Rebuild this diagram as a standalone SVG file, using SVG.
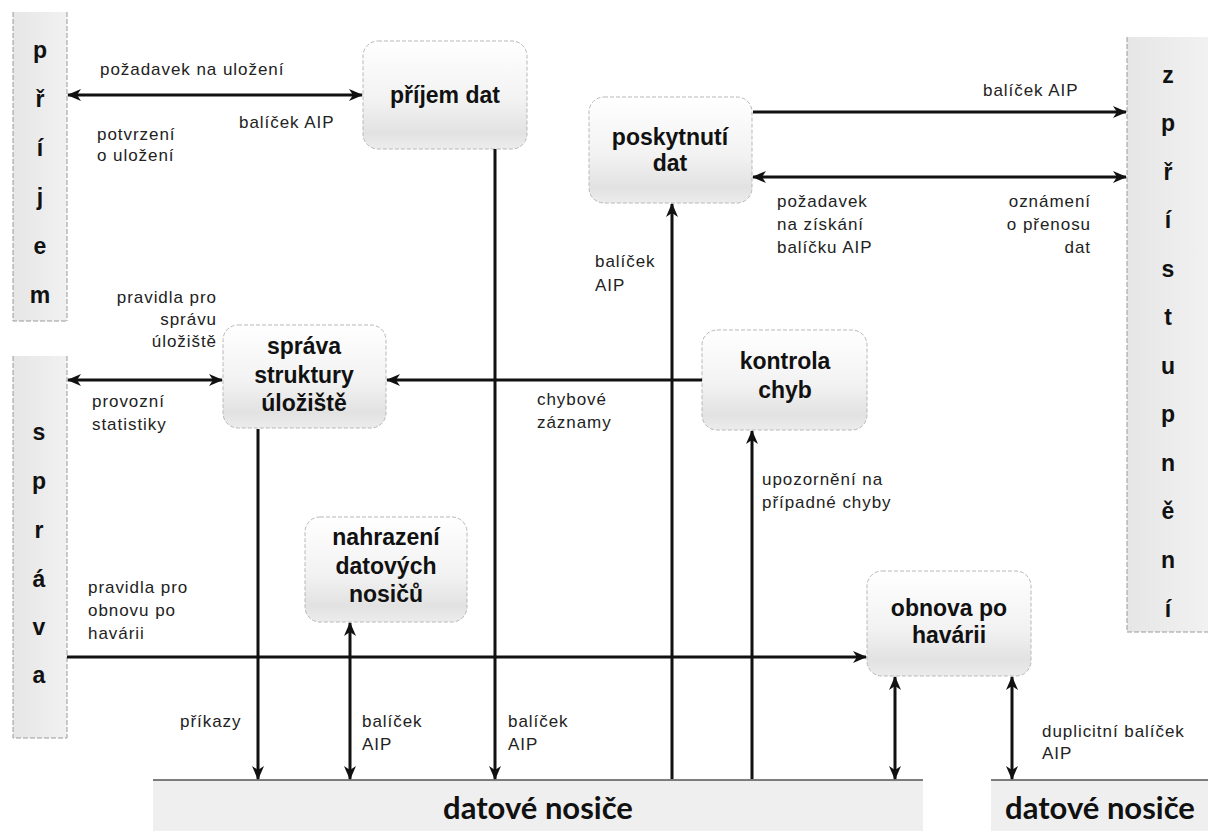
<svg xmlns="http://www.w3.org/2000/svg" width="1208" height="831" viewBox="0 0 1208 831">
<defs>
<linearGradient id="boxg" x1="0" y1="0" x2="0" y2="1">
<stop offset="0" stop-color="#ffffff"/>
<stop offset="0.55" stop-color="#f2f2f2"/>
<stop offset="0.85" stop-color="#e2e2e2"/>
<stop offset="1" stop-color="#ececec"/>
</linearGradient>
<linearGradient id="bandg" x1="0" y1="0" x2="1" y2="0">
<stop offset="0" stop-color="#e6e6e6"/>
<stop offset="1" stop-color="#f1f1f1"/>
</linearGradient>
<marker id="ah" viewBox="0 0 14 12" refX="13" refY="6" markerWidth="14" markerHeight="12" markerUnits="userSpaceOnUse" orient="auto-start-reverse">
<path d="M0,0 L14,6 L0,12 L4,6 z" fill="#111"/>
</marker>
</defs>
<style>
.box{fill:url(#boxg);stroke:#b8b8b8;stroke-width:1;stroke-dasharray:4 2}
.band{fill:url(#bandg)}
.edge{stroke:#9a9a9a;stroke-width:1;stroke-dasharray:5 2;fill:none}
.t{font-family:"Liberation Sans",Arial,sans-serif;font-weight:bold;font-size:23px;fill:#111;text-anchor:middle}
.bl{font-family:"Liberation Sans",Arial,sans-serif;font-weight:bold;font-size:23px;fill:#111;text-anchor:middle}
.lb{font-family:"Liberation Sans",Arial,sans-serif;font-size:17px;letter-spacing:0.95px;fill:#222}
.r{text-anchor:end}
.dn{font-family:Lato,"Open Sans",sans-serif;font-weight:bold;font-size:31px;fill:#111;text-anchor:middle}
.c{stroke:#111;stroke-width:3;fill:none}
.s{marker-end:url(#ah)}
.d{marker-start:url(#ah);marker-end:url(#ah)}
</style>

<g id="band-prijem">
<rect class="band" x="13" y="12" width="54" height="309"/>
<path class="edge" d="M13,12 V321 H67 M67,12 V321"/>
<text class="bl" x="40" y="58">p</text>
<text class="bl" x="40" y="107">ř</text>
<text class="bl" x="40" y="156">í</text>
<text class="bl" x="40" y="205">j</text>
<text class="bl" x="40" y="254">e</text>
<text class="bl" x="40" y="303">m</text>
</g>

<g id="band-sprava">
<rect class="band" x="13" y="356" width="54" height="382"/>
<path class="edge" d="M13,356 V738 H67 M67,356 V738"/>
<text class="bl" x="39" y="440">s</text>
<text class="bl" x="39" y="489">p</text>
<text class="bl" x="39" y="538">r</text>
<text class="bl" x="39" y="587">á</text>
<text class="bl" x="39" y="635">v</text>
<text class="bl" x="39" y="683">a</text>
</g>

<g id="band-zpristupneni">
<rect class="band" x="1127" y="37" width="81" height="595"/>
<path class="edge" d="M1127,37 V632 H1208"/>
<text class="bl" x="1168" y="83">z</text>
<text class="bl" x="1168" y="131">p</text>
<text class="bl" x="1168" y="180">ř</text>
<text class="bl" x="1168" y="228">í</text>
<text class="bl" x="1168" y="277">s</text>
<text class="bl" x="1168" y="325">t</text>
<text class="bl" x="1168" y="374">u</text>
<text class="bl" x="1168" y="422">p</text>
<text class="bl" x="1168" y="471">n</text>
<text class="bl" x="1168" y="519">ě</text>
<text class="bl" x="1168" y="568">n</text>
<text class="bl" x="1168" y="617">í</text>
</g>

<g id="band-nosice-1">
<rect x="153" y="780" width="770" height="51" fill="#efefef"/>
<line x1="153" y1="780" x2="923" y2="780" stroke="#555" stroke-width="1.5"/>
<text class="dn" x="538" y="819">datové nosiče</text>
</g>

<g id="band-nosice-2">
<rect x="991" y="780" width="217" height="51" fill="#efefef"/>
<line x1="991" y1="780" x2="1208" y2="780" stroke="#555" stroke-width="1.5"/>
<text class="dn" x="1100" y="819">datové nosiče</text>
</g>

<g id="node-prijem-dat">
<rect class="box" x="363" y="41" width="164" height="108" rx="15"/>
<text class="t" x="445" y="103">příjem dat</text>
</g>

<g id="node-poskytnuti-dat">
<rect class="box" x="589" y="97" width="163" height="106" rx="15"/>
<text class="t" x="670" y="145">poskytnutí</text>
<text class="t" x="670" y="171">dat</text>
</g>

<g id="node-sprava-struktury">
<rect class="box" x="223" y="325" width="163" height="103" rx="15"/>
<text class="t" x="304" y="354">správa</text>
<text class="t" x="304" y="383">struktury</text>
<text class="t" x="304" y="411">úložiště</text>
</g>

<g id="node-kontrola-chyb">
<rect class="box" x="702" y="330" width="165" height="100" rx="15"/>
<text class="t" x="785" y="369">kontrola</text>
<text class="t" x="785" y="398">chyb</text>
</g>

<g id="node-nahrazeni">
<rect class="box" x="305" y="517" width="162" height="105" rx="15"/>
<text class="t" x="386" y="545">nahrazení</text>
<text class="t" x="386" y="574">datových</text>
<text class="t" x="386" y="602">nosičů</text>
</g>

<g id="node-obnova">
<rect class="box" x="867" y="571" width="164" height="105" rx="15"/>
<text class="t" x="949" y="616">obnova po</text>
<text class="t" x="949" y="643">havárii</text>
</g>

<g id="connectors">
<path class="c d" d="M68,95 H362"/>
<path class="c s" d="M495,149 V779"/>
<path class="c s" d="M672,779 V204"/>
<path class="c s" d="M752,779 V431"/>
<path class="c s" d="M753,112 H1126"/>
<path class="c d" d="M753,177 H1126"/>
<path class="c d" d="M68,380 H222"/>
<path class="c s" d="M702,380 H387"/>
<path class="c s" d="M258,429 V779"/>
<path class="c d" d="M350,779 V623"/>
<path class="c s" d="M67,657 H866"/>
<path class="c d" d="M895,779 V677"/>
<path class="c d" d="M1012,779 V677"/>
</g>

<g id="labels">
<text class="lb" x="100" y="75">požadavek na uložení</text>
<text class="lb" x="239" y="128">balíček AIP</text>
<text class="lb" x="97" y="140">potvrzení</text>
<text class="lb" x="97" y="161">o uložení</text>
<text class="lb r" x="217" y="303">pravidla pro</text>
<text class="lb r" x="217" y="325">správu</text>
<text class="lb r" x="217" y="347">úložiště</text>
<text class="lb" x="92" y="407">provozní</text>
<text class="lb" x="92" y="430">statistiky</text>
<text class="lb" x="537" y="405">chybové</text>
<text class="lb" x="537" y="428">záznamy</text>
<text class="lb" x="595" y="267">balíček</text>
<text class="lb" x="595" y="291">AIP</text>
<text class="lb" x="983" y="96">balíček AIP</text>
<text class="lb" x="777" y="207">požadavek</text>
<text class="lb" x="777" y="230">na získání</text>
<text class="lb" x="777" y="253">balíčku AIP</text>
<text class="lb r" x="1091" y="207">oznámení</text>
<text class="lb r" x="1091" y="230">o přenosu</text>
<text class="lb r" x="1091" y="253">dat</text>
<text class="lb" x="762" y="485">upozornění na</text>
<text class="lb" x="762" y="508">případné chyby</text>
<text class="lb" x="88" y="593">pravidla pro</text>
<text class="lb" x="88" y="616">obnovu po</text>
<text class="lb" x="88" y="639">havárii</text>
<text class="lb" x="180" y="727">příkazy</text>
<text class="lb" x="362" y="727">balíček</text>
<text class="lb" x="362" y="750">AIP</text>
<text class="lb" x="508" y="727">balíček</text>
<text class="lb" x="508" y="750">AIP</text>
<text class="lb" x="1042" y="737">duplicitní balíček</text>
<text class="lb" x="1042" y="759">AIP</text>
</g>
</svg>
